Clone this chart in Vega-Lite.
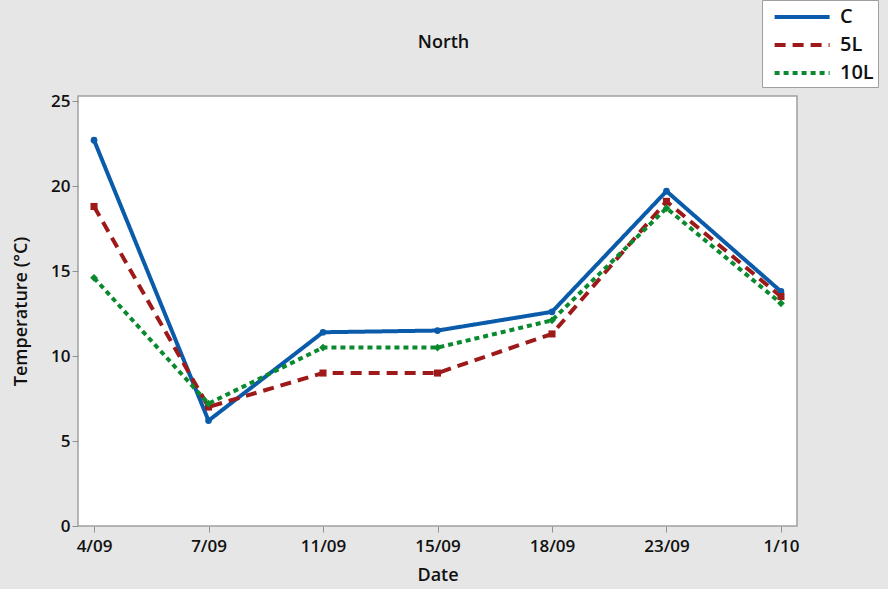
{
  "$schema": "https://vega.github.io/schema/vega-lite/v6.json",
  "autosize": "none",
  "width": 719,
  "height": 430,
  "padding": {"left": 78, "top": 96, "right": 91, "bottom": 63},
  "background": "#e6e6e6",
  "config": {
    "view": {"fill": "white", "stroke": "#a0a0a0", "strokeWidth": 1.5},
    "font": "Open Sans",
    "axis": {"labelFont": "Open Sans", "titleFont": "Open Sans", "labelColor": "#111", "titleColor": "#111", "domain": false, "grid": false, "tickColor": "#909090", "tickSize": 6, "labelFontSize": 17, "labelFontWeight": 600, "titleFontSize": 18, "titleFontWeight": 600}
  },
  "title": {"text": "North", "fontSize": 18, "fontWeight": 600, "font": "Open Sans", "offset": -52, "anchor": "middle", "frame": "group", "color": "#111", "dx": 6},
  "data": {"values": [
    {"Date": "4/09", "Series": "C", "T": 22.7},
    {"Date": "7/09", "Series": "C", "T": 6.2},
    {"Date": "11/09", "Series": "C", "T": 11.4},
    {"Date": "15/09", "Series": "C", "T": 11.5},
    {"Date": "18/09", "Series": "C", "T": 12.6},
    {"Date": "23/09", "Series": "C", "T": 19.7},
    {"Date": "1/10", "Series": "C", "T": 13.8},
    {"Date": "4/09", "Series": "5L", "T": 18.8},
    {"Date": "7/09", "Series": "5L", "T": 7.0},
    {"Date": "11/09", "Series": "5L", "T": 9.0},
    {"Date": "15/09", "Series": "5L", "T": 9.0},
    {"Date": "18/09", "Series": "5L", "T": 11.3},
    {"Date": "23/09", "Series": "5L", "T": 19.1},
    {"Date": "1/10", "Series": "5L", "T": 13.5},
    {"Date": "4/09", "Series": "10L", "T": 14.6},
    {"Date": "7/09", "Series": "10L", "T": 7.2},
    {"Date": "11/09", "Series": "10L", "T": 10.5},
    {"Date": "15/09", "Series": "10L", "T": 10.5},
    {"Date": "18/09", "Series": "10L", "T": 12.1},
    {"Date": "23/09", "Series": "10L", "T": 18.7},
    {"Date": "1/10", "Series": "10L", "T": 13.1}
  ]},
  "encoding": {
    "x": {"field": "Date", "type": "ordinal", "sort": ["4/09", "7/09", "11/09", "15/09", "18/09", "23/09", "1/10"], "scale": {"type": "point", "padding": 0.14}, "axis": {"labelAngle": 0, "title": "Date", "labelPadding": 6, "titlePadding": 12}},
    "y": {"field": "T", "type": "quantitative", "scale": {"domain": [0, 25.3], "nice": false}, "axis": {"values": [0, 5, 10, 15, 20, 25], "title": "Temperature (°C)", "titlePadding": 20}}
  },
  "layer": [
    {
      "mark": {"type": "line", "strokeWidth": 4},
      "encoding": {
        "color": {"field": "Series", "type": "nominal", "scale": {"domain": ["C", "5L", "10L"], "range": ["#0b5bab", "#9e1a1a", "#0a8a2e"]},
          "legend": {"orient": "none", "legendX": 684, "legendY": -96, "symbolType": "M-0.4,0H4.6", "symbolSize": 484, "symbolStrokeWidth": 4, "fillColor": "white", "strokeColor": "#a0a0a0", "padding": 4, "labelFontSize": 20, "labelFontWeight": 600, "labelColor": "#111", "labelFont": "Open Sans", "labelOffset": 48, "rowPadding": 5, "title": null, "direction": "vertical"}},
        "strokeDash": {"field": "Series", "type": "nominal", "scale": {"domain": ["C", "5L", "10L"], "range": [[1, 0], [11, 7], [5, 4]]},
          "legend": {"orient": "none", "legendX": 684, "legendY": -96, "symbolType": "M-0.4,0H4.6", "symbolSize": 484, "symbolStrokeWidth": 4, "fillColor": "white", "strokeColor": "#a0a0a0", "padding": 4, "labelFontSize": 20, "labelFontWeight": 600, "labelColor": "#111", "labelFont": "Open Sans", "labelOffset": 48, "rowPadding": 5, "title": null, "direction": "vertical"}}
      }
    },
    {
      "transform": [{"filter": "datum.Series === 'C'"}],
      "mark": {"type": "point", "filled": true, "opacity": 1, "shape": "circle", "size": 45, "color": "#0b5bab"},
      "encoding": {}
    },
    {
      "transform": [{"filter": "datum.Series === '5L'"}],
      "mark": {"type": "point", "filled": true, "opacity": 1, "shape": "square", "size": 50, "color": "#9e1a1a"},
      "encoding": {}
    },
    {
      "transform": [{"filter": "datum.Series === '10L'"}],
      "mark": {"type": "point", "filled": true, "opacity": 1, "shape": "diamond", "size": 60, "color": "#0a8a2e"},
      "encoding": {}
    }
  ]
}
